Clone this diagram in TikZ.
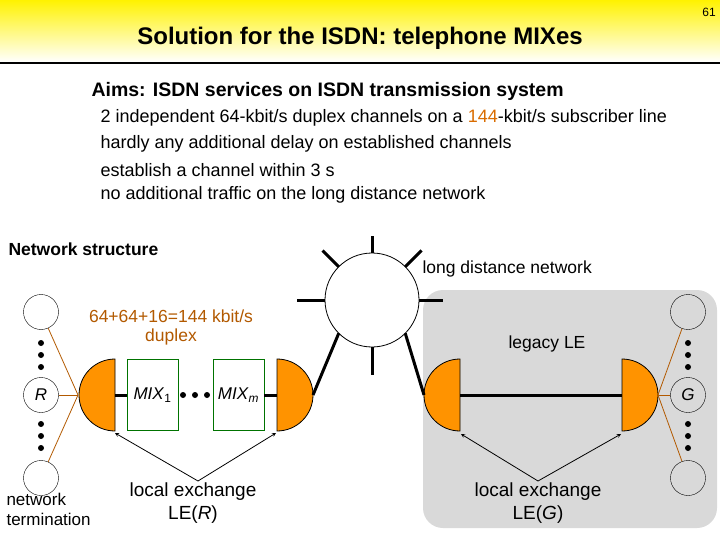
\documentclass[tikz,border=0pt]{standalone}
\usepackage{fontspec}
\usetikzlibrary{calc}
\setmainfont{Liberation Sans}
\begin{document}
\begin{tikzpicture}[x=1pt,y=-1pt,
  ntc/.style={circle,draw,minimum size=35pt,inner sep=0pt,font=\fontsize{17}{17}\selectfont\itshape},
  dot/.style={circle,fill=black,inner sep=0pt,minimum size=6pt},
  mix/.style={draw=green!45!black,fill=white,minimum width=51pt,minimum height=71pt,inner sep=0pt,font=\fontsize{17}{17}\selectfont},
  half/.style={fill=orange!85!yellow,draw=black,line width=0.8pt},
  thick line/.style={line width=3pt},
  ol/.style={draw=orange!70!black,line width=0.8pt},
  arr/.style={->,>=stealth,line width=0.8pt},
  txt/.style={font=\fontsize{17.5}{19}\selectfont,align=center}]
\useasboundingbox (0,0) rectangle (720,540);
\shade[top color=yellow!90!orange, bottom color=white] (0,0) rectangle (720,62);
\draw[line width=2pt] (0,63) -- (720,63);
\node[font=\fontsize{12}{12}\selectfont] (pg) at (709,12) {61};
\node[font=\bfseries\fontsize{24}{26}\selectfont] (title) at (360,38) {Solution for the ISDN: telephone MIXes};
\node[anchor=west,font=\bfseries\fontsize{19.5}{22}\selectfont] (aims) at (88,91) {Aims: ISDN services on ISDN transmission system};
\node[anchor=west,font=\fontsize{18}{20}\selectfont] (b1) at (97,118) {2 independent 64-kbit/s duplex channels on a \textcolor{orange!85!black}{144}-kbit/s subscriber line};
\node[anchor=west,font=\fontsize{18}{20}\selectfont] (b2) at (97,144) {hardly any additional delay on established channels};
\node[anchor=west,font=\fontsize{18}{20}\selectfont] (b3) at (97,170) {establish a channel within 3 s};
\node[anchor=west,font=\fontsize{18}{20}\selectfont] (b4) at (97,195) {no additional traffic on the long distance network};
\node[anchor=west,font=\bfseries\fontsize{17.5}{20}\selectfont] (ns) at (5,249) {Network structure};

% gray region
\fill[gray!30,rounded corners=20pt] (423,290) rectangle (717,528);

% long distance network
\node[circle,draw,line width=0.8pt,fill=white,minimum size=94pt,inner sep=0pt] (ldn) at (372,300) {};
\foreach \a/\l in {0/71,45/70,90/64,135/70,180/75,270/75}{
  \draw[thick line] ($(ldn.center)+(-\a:47)$) -- ($(ldn.center)+(-\a:\l)$);
}
\node[anchor=west,txt] (ldnl) at (419,269) {long distance network};
\node[txt] (leg) at (547,344) {legacy LE};

% left side
\node[ntc] (t1) at (41,312) {};
\node[ntc] (R) at (41,395) {R};
\node[ntc] (t2) at (41,478) {};
\foreach \y in {343,355,367,424,436,448}{\node[dot] at (41,\y) {};}
\foreach \y in {343,355,367,424,436,448}{\node[dot] at (688,\y) {};}

\coordinate (A) at (78,395);
\fill[half] (115,359) arc (-90:-270:36) -- cycle;
\coordinate (B) at (313,395);
\fill[half] (277,359) arc (-90:90:36) -- cycle;
\coordinate (C) at (424,395);
\fill[half] (460,359) arc (-90:-270:36) -- cycle;
\coordinate (D) at (658,395);
\fill[half] (622,359) arc (-90:90:36) -- cycle;
\coordinate (Aflat) at (115,395);
\coordinate (Cflat) at (460,395);
\coordinate (Dflat) at (622,395);
\coordinate (Bflat) at (277,395);

\node[mix] (m1) at (152.5,395) {\textit{MIX}\textsubscript{1}};
\node[mix] (mm) at (238.5,395) {\textit{MIX}\textsubscript{\textit{m}}};
\foreach \x in {183,195,207}{\node[dot] at (\x,395) {};}
\draw[thick line] (Aflat) -- (m1.west);
\draw[thick line] (mm.east) -- (Bflat);
\draw[thick line] (Cflat) -- (Dflat);
\draw[thick line] ($(ldn.center)+(-225:47)$) -- (B);
\draw[thick line] ($(ldn.center)+(45:47)$) -- (C);

\draw[ol] (t1) -- (A); \draw[ol] (R) -- (A); \draw[ol] (t2) -- (A);

\node[ntc] (g1) at (688,312) {};
\node[ntc] (G) at (688,395) {G};
\node[ntc] (g2) at (688,478) {};
\draw[ol] (g1) -- (D); \draw[ol] (G) -- (D); \draw[ol] (g2) -- (D);

\node[txt,text=orange!70!black] (rate) at (171,327) {64+64+16=144 kbit/s\\duplex};
\node[txt,font=\fontsize{19}{23}\selectfont] (leR) at (193,503) {local exchange\\LE(\textit{R})};
\node[txt,font=\fontsize{19}{23}\selectfont] (leG) at (538,503) {local exchange\\LE(\textit{G})};
\node[txt,align=left,anchor=west,font=\fontsize{17}{20}\selectfont] (nt) at (3,509) {network\\termination};
\coordinate (aR) at (198,481);
\coordinate (aG) at (538,481);
\draw[arr] (aR) -- (115,433);
\draw[arr] (aR) -- (276,433);
\draw[arr] (aG) -- (461,434);
\draw[arr] (aG) -- (621,434);
\end{tikzpicture}
\end{document}
